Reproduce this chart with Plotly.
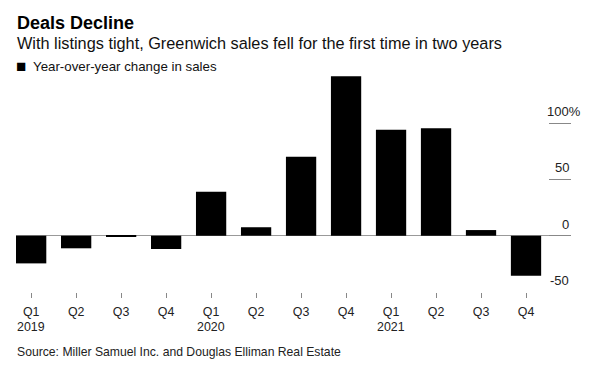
import plotly.graph_objects as go

quarters = ["Q1", "Q2", "Q3", "Q4", "Q1", "Q2", "Q3", "Q4", "Q1", "Q2", "Q3", "Q4"]
years = ["2019", "", "", "", "2020", "", "", "", "2021", "", "", ""]
yoy_change = [-24.6, -11.2, -0.6, -11.8, 39.1, 7.5, 70.0, 141.5, 94.0, 95.5, 5.0, -35.5]
series_name = "Year-over-year change in sales"
y_ticks = [-50, 0, 50, 100]
y_tick_text = ["-50", "0", "50", "100%"]

title = "Deals Decline"
subtitle = "With listings tight, Greenwich sales fell for the first time in two years"
source = "Source: Miller Samuel Inc. and Douglas Elliman Real Estate"

FONT = "Liberation Sans, Arial, Helvetica, sans-serif"

x_idx = list(range(len(quarters)))

fig = go.Figure()
fig.add_trace(go.Bar(
    x=x_idx, y=yoy_change, name=series_name,
    marker=dict(color="#000000", line=dict(width=0)),
    showlegend=False,
))

annotations = [
    dict(text="<b>" + title + "</b>", x=0, y=1.207, xref="paper", yref="paper",
         xanchor="left", yanchor="middle", showarrow=False, xshift=-1,
         font=dict(family=FONT, size=18, color="#000000")),
    dict(text=subtitle, x=0, y=1.115, xref="paper", yref="paper",
         xanchor="left", yanchor="middle", showarrow=False, xshift=-1,
         font=dict(family=FONT, size=16.3, color="#111111")),
    dict(text="■", x=0, y=1.012, xref="paper", yref="paper",
         xanchor="left", yanchor="middle", showarrow=False, xshift=-2.5,
         font=dict(family=FONT, size=17, color="#000000")),
    dict(text=series_name, x=0, y=1.01, xref="paper", yref="paper",
         xanchor="left", yanchor="middle", showarrow=False, xshift=15,
         font=dict(family=FONT, size=13.3, color="#111111")),
    dict(text=source, x=0, y=-0.269, xref="paper", yref="paper",
         xanchor="left", yanchor="middle", showarrow=False, xshift=-1,
         font=dict(family=FONT, size=12.2, color="#222222")),
]
for v, t in zip(y_ticks, y_tick_text):
    annotations.append(dict(
        text=t, x=1, y=v, xref="paper", yref="y", xanchor="right", yanchor="bottom",
        showarrow=False, yshift=2, xshift=(12 if t.endswith("%") else 0),
        font=dict(family=FONT, size=13, color="#222222")))
for i, yr in zip(x_idx, years):
    if yr:
        annotations.append(dict(
            text=yr, x=i, y=-0.159, xref="x", yref="paper", xanchor="center",
            yanchor="middle", showarrow=False,
            font=dict(family=FONT, size=12.4, color="#222222")))

# page body has an 8px default margin; size the figure so the plot lands where the reference has it
fig.update_layout(
    width=592, height=368,
    margin=dict(l=8, r=29, t=61, b=84, pad=0),
    paper_bgcolor="#ffffff", plot_bgcolor="#ffffff",
    bargap=0.327,
    font=dict(family=FONT, size=12.4, color="#222222"),
    annotations=annotations,
    xaxis=dict(
        range=[-0.337, 12.0], tickmode="array", tickvals=x_idx, ticktext=quarters,
        ticks="outside", ticklen=5, tickcolor="#888888", tickwidth=1,
        ticklabelstandoff=3,
        showgrid=False, zeroline=False, showline=False,
        tickfont=dict(family=FONT, size=12.4, color="#222222"),
    ),
    yaxis=dict(
        range=[-50, 148], side="right", tickmode="array", tickvals=y_ticks,
        ticks="inside", ticklen=22, tickcolor="#888888", tickwidth=1,
        showticklabels=False, showgrid=False, showline=False,
        zeroline=True, zerolinecolor="#999999", zerolinewidth=1,
    ),
)

fig.write_html("out.html")
